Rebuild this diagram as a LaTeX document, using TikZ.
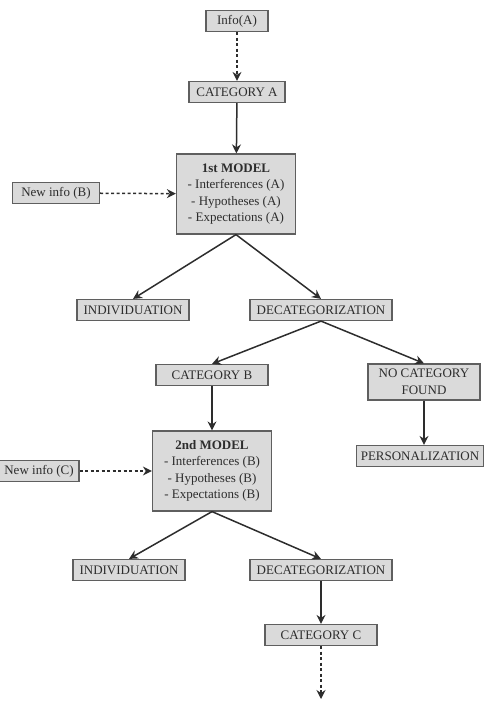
\documentclass[tikz,border=0pt]{standalone}
\usepackage{fontspec}
\setmainfont{Liberation Serif}
\usetikzlibrary{arrows.meta}
\definecolor{boxFill}{RGB}{218,218,218}
\definecolor{boxLine}{RGB}{95,95,95}
\definecolor{inkGray}{RGB}{45,45,45}

\begin{document}
\begin{tikzpicture}[
    x=1pt, y=-1pt,
    stage/.style={rectangle, draw=boxLine, fill=boxFill, line width=1.2pt, minimum height=21pt, inner xsep=3pt, inner ysep=1pt, text=inkGray, font=\fontsize{13}{16.5}\selectfont},
    model/.style={stage, minimum width=119pt, minimum height=80pt, align=center},
    flow/.style={-{Stealth[length=9pt,width=9pt]}, draw=inkGray, line width=1.5pt},
    hint/.style={flow, dash pattern=on 3pt off 2.5pt}
]
  \useasboundingbox (0,0) rectangle (491,717);

  % upper model
  \node[stage, minimum width=62pt] (infoA) at (237,21) {Info(A)};
  \node[stage, minimum width=96pt] (catA) at (237,92) {CATEGORY A};
  \node[model] (modelA) at (236,194) {\textbf{1st MODEL}\\- Interferences (A)\\- Hypotheses (A)\\- Expectations (A)};
  \node[stage, minimum width=87pt] (newB) at (56,193) {New info (B)};
  \node[stage, minimum width=112pt] (indivA) at (133,310) {INDIVIDUATION};
  \node[stage, minimum width=142pt] (decatA) at (321,310) {DECATEGORIZATION};

  % branches
  \node[stage, minimum width=112pt] (catB) at (212,375) {CATEGORY B};
  \node[stage, align=center, minimum width=112pt, minimum height=36pt] (nocat) at (424,382) {NO CATEGORY\\FOUND};
  \node[stage, minimum width=127pt] (person) at (420,456) {PERSONALIZATION};

  % lower model
  \node[model] (modelB) at (212,471) {\textbf{2nd MODEL}\\- Interferences (B)\\- Hypotheses (B)\\- Expectations (B)};
  \node[stage, minimum width=80pt] (newC) at (39,471) {New info (C)};
  \node[stage, minimum width=112pt] (indivB) at (129,570) {INDIVIDUATION};
  \node[stage, minimum width=142pt] (decatB) at (321,570) {DECATEGORIZATION};
  \node[stage, minimum width=112pt] (catC) at (321,635) {CATEGORY C};
  \coordinate (more) at (321,699);

  \draw[hint] (infoA) -- (catA);
  \draw[flow] (catA) -- (modelA);
  \draw[hint] (newB) -- (modelA);
  \draw[flow] (modelA.south) -- (indivA.north);
  \draw[flow] (modelA.south) -- (decatA.north);
  \draw[flow] (decatA.south) -- (catB.north);
  \draw[flow] (decatA.south) -- (nocat.north);
  \draw[flow] (nocat.south) -- (nocat.south |- person.north);
  \draw[flow] (catB) -- (modelB);
  \draw[hint] (newC) -- (modelB);
  \draw[flow] (modelB.south) -- (indivB.north);
  \draw[flow] (modelB.south) -- (decatB.north);
  \draw[flow] (decatB) -- (catC);
  \draw[hint] (catC) -- (more);
\end{tikzpicture}
\end{document}
